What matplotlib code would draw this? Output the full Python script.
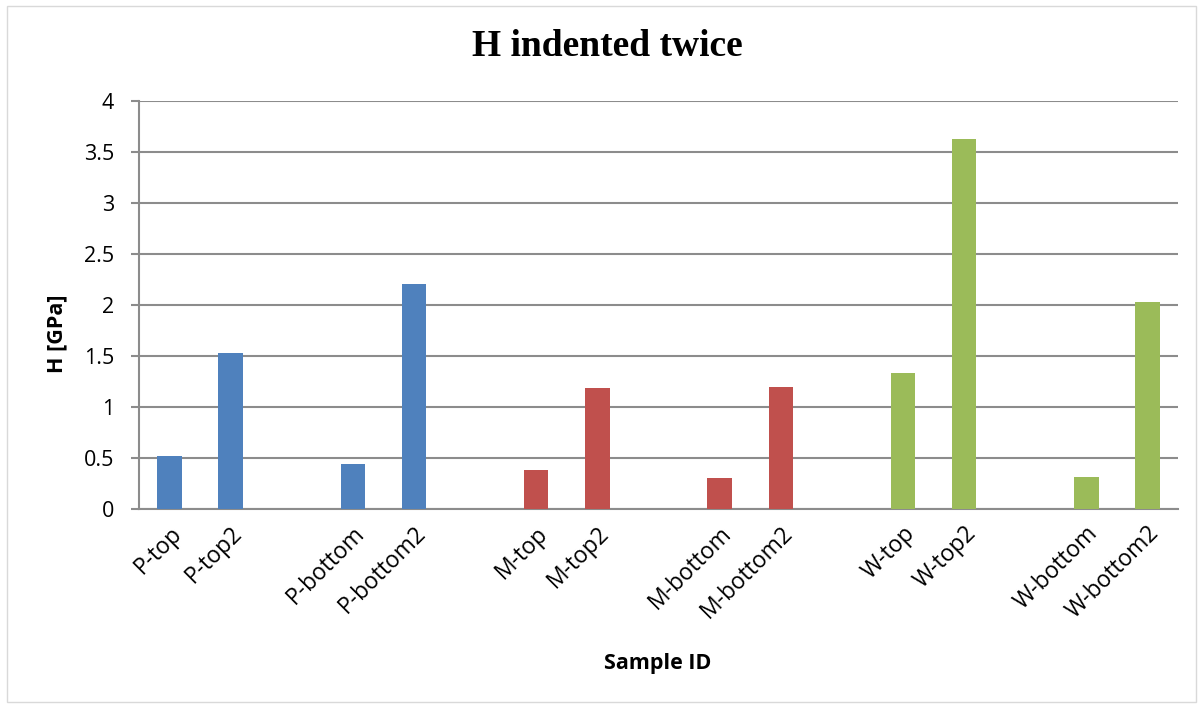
import matplotlib
matplotlib.use("Agg")
import matplotlib.pyplot as plt
from matplotlib.patches import Rectangle

categories = ["P-top", "P-top2", "", "P-bottom", "P-bottom2", "",
              "M-top", "M-top2", "", "M-bottom", "M-bottom2", "",
              "W-top", "W-top2", "", "W-bottom", "W-bottom2"]
values = [0.52, 1.53, None, 0.44, 2.21, None,
          0.38, 1.19, None, 0.30, 1.20, None,
          1.33, 3.63, None, 0.31, 2.03]
groups = ["P", "P", "", "P", "P", "",
          "M", "M", "", "M", "M", "",
          "W", "W", "", "W", "W"]
group_colors = {"P": "#4F81BD", "M": "#C0504D", "W": "#9BBB59"}
yticks = [0, 0.5, 1, 1.5, 2, 2.5, 3, 3.5, 4]
ytick_labels = ["0", "0.5", "1", "1.5", "2", "2.5", "3", "3.5", "4"]

fig = plt.figure(figsize=(12.03, 7.08), dpi=100)
ax = fig.add_axes([139/1203, 1 - 509/708, (1178-139)/1203, (509-101)/708])

xs = [i for i, v in enumerate(values) if v is not None]
hs = [v for v in values if v is not None]
cs = [group_colors[groups[i]] for i in xs]
ax.bar(xs, hs, width=0.4, color=cs, zorder=3)

ax.set_xlim(-0.5, len(categories) - 0.5)
ax.set_ylim(0, 4)
ax.set_yticks(yticks)
ax.set_yticklabels(ytick_labels, fontfamily="Open Sans", fontsize=15.5)
ax.yaxis.grid(True, color="#8C8C8C", linewidth=1.5, zorder=0)
ax.set_axisbelow(True)

ax.set_xticks(range(len(categories)))
ax.set_xticklabels(categories, rotation=45, ha="right", rotation_mode="anchor",
                   fontfamily="Open Sans", fontsize=16.5)
ax.tick_params(axis="x", length=0, pad=9)
ax.tick_params(axis="y", length=6, width=1.5, color="#8C8C8C", pad=12)

for s in ["top", "right"]:
    ax.spines[s].set_visible(False)
ax.spines["left"].set_color("#8C8C8C")
ax.spines["left"].set_linewidth(1.5)
ax.spines["bottom"].set_color("#8C8C8C")
ax.spines["bottom"].set_linewidth(1.5)

fig.text(57/1203, 1 - 334/708, "H [GPa]", ha="center", va="center", rotation=90,
         fontfamily="Open Sans", fontweight="bold", fontsize=15.5)
fig.text(658/1203, 1 - 663/708, "Sample ID", ha="center", va="center",
         fontfamily="Open Sans", fontweight="bold", fontsize=15.5)
fig.text(607/1203, 1 - 47/708, "H indented twice", ha="center", va="center",
         fontfamily="Liberation Serif", fontweight="bold", fontsize=27)

fig.patches.append(Rectangle((7/1203, 6/708), (1196-7)/1203, (702-6)/708,
                             transform=fig.transFigure, fill=False,
                             edgecolor="#D9D9D9", linewidth=1))

fig.savefig("out.png", dpi=100)
